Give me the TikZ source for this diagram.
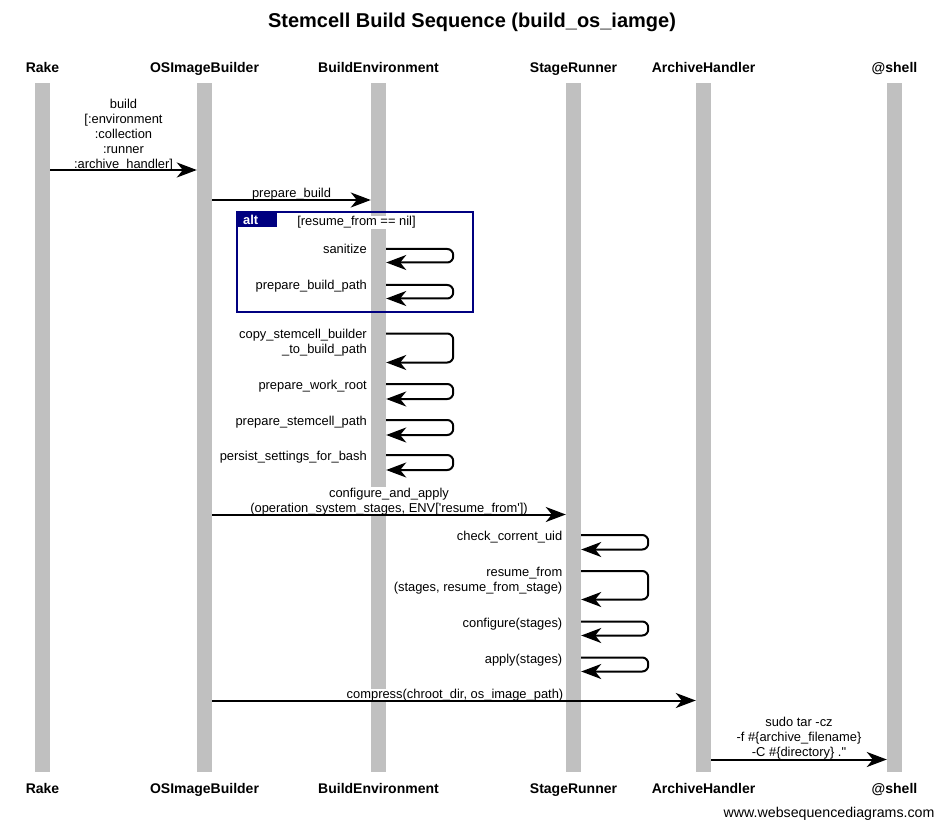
\documentclass[tikz,border=0pt]{standalone}
\usepackage{fontspec}
\setmainfont{Liberation Sans}[Ligatures=TeXOff]
\usetikzlibrary{arrows.meta}
\definecolor{lifeGray}{HTML}{C0C0C0}
\definecolor{altNavy}{HTML}{000080}

\begin{document}
\begin{tikzpicture}[x=1pt,y=-1pt]
  \tikzset{
    lifeline/.style={fill=lifeGray,inner sep=0pt,minimum width=15pt,minimum height=689pt},
    actor/.style={font=\bfseries\fontsize{14}{16}\selectfont,anchor=base},
    msg/.style={font=\fontsize{12.9}{15}\selectfont,align=center,fill=white,inner sep=0.5pt},
    selfmsg/.style={font=\fontsize{12.9}{15}\selectfont,align=right,anchor=east,inner sep=0pt},
    call/.style={line width=2pt,-{Stealth[length=20pt,width=15pt,inset=6pt]}},
    selfcall/.style={call,rounded corners=6pt}
  }
  \useasboundingbox (0,0) rectangle (943,829);

  \node[font=\bfseries\fontsize{20}{24}\selectfont,anchor=base] (title) at (472,28)
    {Stemcell Build Sequence (build\_os\_iamge)};

  % lifelines
  \node[lifeline] (rake) at (42.5,427.5) {};
  \node[lifeline] (builder) at (204.5,427.5) {};
  \node[lifeline] (buildenv) at (378.5,427.5) {};
  \node[lifeline] (runner) at (573.5,427.5) {};
  \node[lifeline] (archiver) at (703.5,427.5) {};
  \node[lifeline] (shell) at (894.5,427.5) {};
  \foreach \n/\t in {rake/Rake,builder/OSImageBuilder,buildenv/BuildEnvironment,runner/StageRunner,archiver/ArchiveHandler,shell/@shell}
    {\node[actor] (\n-top) at (\n.north |- 0,72.3) {\t};
     \node[actor] (\n-bot) at (\n.south |- 0,793) {\t};}

  % calls between lifelines
  \node[msg] (buildLbl) at (123.5,135) {build\\{}[:environment\\:collection\\:runner\\:archive\_handler]};
  \draw[call] (rake.east |- 0,170) -- (builder.west |- 0,170);

  \node[msg,anchor=base] (prepLbl) at (291.5,197.5) {prepare\_build};
  \draw[call] (builder.east |- 0,200) -- (buildenv.west |- 0,200);

  \node[msg] (applyLbl) at (389,501.5) {configure\_and\_apply\\(operation\_system\_stages, ENV['resume\_from'])};
  \draw[call] (builder.east |- 0,514.5) -- (runner.west |- 0,514.5);

  \node[msg,anchor=base] (compressLbl) at (455,698.5) {compress(chroot\_dir, os\_image\_path)};
  \draw[call] (builder.east |- 0,700.5) -- (archiver.west |- 0,700.5);

  \node[msg] (tarLbl) at (799,738) {sudo tar -cz\\-f \#\{archive\_filename\}\\-C \#\{directory\} ."};
  \draw[call] (archiver.east |- 0,759.5) -- (shell.west |- 0,759.5);

  % self calls
  \foreach \a/\b/\c/\o/\t in {249/262.5/253.5/base east/sanitize,
      285/298.5/290/base east/prepare\_build\_path,
      333.5/362.5/343/east/{copy\_stemcell\_builder\\\_to\_build\_path},
      384/399/389.5/base east/prepare\_work\_root,
      420/435/425.5/base east/prepare\_stemcell\_path,
      455/470/460.5/base east/persist\_settings\_for\_bash}
    {\node[selfmsg,anchor=\o] at (367,\c) {\t};
     \draw[selfcall] (buildenv.east |- 0,\a) -- ++(67,0) |- (buildenv.east |- 0,\b);}

  \foreach \a/\b/\c/\o/\t in {535/549.5/540.5/base east/check\_corrent\_uid,
      571/599.5/580.3/east/{resume\_from\\(stages, resume\_from\_stage)},
      621.5/635.5/627.5/base east/configure(stages),
      657.5/671.5/663.5/base east/apply(stages)}
    {\node[selfmsg,anchor=\o] at (562.5,\c) {\t};
     \draw[selfcall] (runner.east |- 0,\a) -- ++(67,0) |- (runner.east |- 0,\b);}

  % alt frame
  \node[msg,anchor=base] (altCond) at (356.5,226) {[resume\_from == nil]};
  \draw[altNavy,line width=2.5pt] (237,212) rectangle (473,312);
  \fill[altNavy] (237,212) rectangle (277,227);
  \node[font=\bfseries\fontsize{12.9}{15}\selectfont,text=white,anchor=west,inner sep=0pt] (altTag) at (243,220) {alt};

  \node[font=\fontsize{14.2}{16}\selectfont,anchor=base east] (credit) at (938,817) {www.websequencediagrams.com};
\end{tikzpicture}
\end{document}
